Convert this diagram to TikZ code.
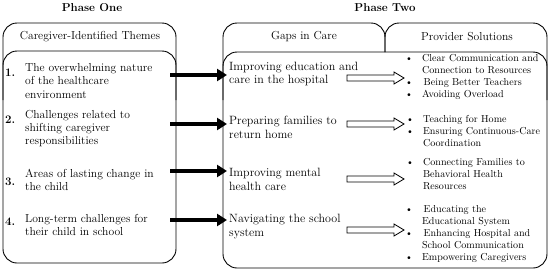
\documentclass[tikz,border=0pt]{standalone}
\usetikzlibrary{arrows.meta,calc}
\tikzset{
  box/.style={line width=0.9pt, rounded corners=14pt},
  theme/.style={anchor=west, align=left, inner sep=0pt, font=\fontsize{11.6}{13.3}\selectfont},
  num/.style={anchor=west, inner sep=0pt, font=\fontsize{11.5}{13}\selectfont\bfseries},
  gaptext/.style={anchor=west, align=left, inner sep=0pt, font=\fontsize{12}{13.5}\selectfont},
  soltext/.style={anchor=west, inner sep=0pt, font=\fontsize{10.1}{12}\selectfont},
  headtext/.style={inner sep=0pt, font=\fontsize{11.6}{13.5}\selectfont},
  titletext/.style={inner sep=0pt, font=\fontsize{11.5}{13}\selectfont\bfseries},
  solidarrow/.style={line width=4pt, -{Triangle[length=10pt,width=12pt]}},
  hollowarrow/.style={line width=0.8pt, fill=white, to path={let \p1=(\tikztostart), \p2=(\tikztotarget) in
     (\x1,\y1+3pt) -- (\x2-10pt,\y1+3pt) -- (\x2-10pt,\y1+6pt) -- (\x2,\y1) -- (\x2-10pt,\y1-6pt) -- (\x2-10pt,\y1-3pt) -- (\x1,\y1-3pt) -- cycle}},
}
\newcommand{\solitems}[1]{\begin{tabular}{@{}l@{\hspace{9pt}}l@{}}#1\end{tabular}}
\begin{document}
\begin{tikzpicture}[x=1pt,y=-1pt]
\useasboundingbox[fill=white] (0,0) rectangle (550,271);
% titles
\node[titletext] (p1) at (92,8) {Phase One};
\node[titletext] (p2) at (385,8) {Phase Two};
% boxes
\draw[box] (3,100) -- (3,23) -- (176,23) -- (176,100);
\draw[box] (3,51) rectangle (176,263);
\draw[box] (223,100) -- (223,23) -- (385,23) -- (385,52);
\draw[box] (385,52) -- (385,23) -- (547,23) -- (547,100);
\draw[box] (223,52) rectangle (547,268);
% headers
\node[headtext] (h1) at (90,37) {Caregiver-Identified Themes};
\node[headtext] (h2) at (304,37) {Gaps in Care};
\node[headtext] (h3) at (467,37) {Provider Solutions};
% themes
\node[num] (n1) at (5,73) {1.};
\node[num] (n2) at (5,120) {2.};
\node[num] (n3) at (5,182) {3.};
\node[num] (n4) at (5,222) {4.};
\node[theme] (t1) at (25,81) {The overwhelming nature\\of the healthcare\\environment};
\node[theme] (t2) at (25,128.5) {Challenges related to\\shifting caregiver\\responsibilities};
\node[theme] (t3) at (25,180) {Areas of lasting change in\\the child};
\node[theme] (t4) at (25,225) {Long-term challenges for\\their child in school};
% gaps
\node[gaptext] (g1) at (229,74) {Improving education and\\care in the hospital};
\node[gaptext] (g2) at (229,127.5) {Preparing families to\\return home};
\node[gaptext] (g3) at (229,179.5) {Improving mental\\health care};
\node[gaptext] (g4) at (229,226.5) {Navigating the school\\system};
% solutions
\node[soltext] (s1) at (405,77) {\solitems{\textbullet & Clear Communication and\\ & Connection to Resources\\ \textbullet & \,Being Better Teachers\\ \textbullet & Avoiding Overload}};
\node[soltext] (s2) at (406,132.5) {\solitems{\textbullet & Teaching for Home\\ \textbullet & Ensuring Continuous-Care\\ & Coordination}};
\node[soltext] (s3) at (406,175.5) {\solitems{\textbullet & Connecting Families to\\ & Behavioral Health\\ & Resources}};
\node[soltext] (s4) at (405,234) {\solitems{\textbullet & \,Educating the\\ & Educational System\\ \textbullet & \,Enhancing Hospital and\\ & School Communication\\ \textbullet & Empowering Caregivers}};
% arrow end points
\coordinate (a1s) at (170,75);  \coordinate (a1e) at (227,75);
\coordinate (a2s) at (170,124); \coordinate (a2e) at (227,124);
\coordinate (a3s) at (170,171); \coordinate (a3e) at (227,171);
\coordinate (a4s) at (170,220); \coordinate (a4e) at (227,220);
\draw[solidarrow] (a1s) -- (a1e);
\draw[solidarrow] (a2s) -- (a2e);
\draw[solidarrow] (a3s) -- (a3e);
\draw[solidarrow] (a4s) -- (a4e);
\coordinate (b1s) at (347,78);  \coordinate (b1e) at (404,78);
\coordinate (b2s) at (347,124); \coordinate (b2e) at (404,124);
\coordinate (b3s) at (347,179); \coordinate (b3e) at (404,179);
\coordinate (b4s) at (347,230); \coordinate (b4e) at (404,230);
\draw[hollowarrow] (b1s) to (b1e);
\draw[hollowarrow] (b2s) to (b2e);
\draw[hollowarrow] (b3s) to (b3e);
\draw[hollowarrow] (b4s) to (b4e);
\end{tikzpicture}
\end{document}
